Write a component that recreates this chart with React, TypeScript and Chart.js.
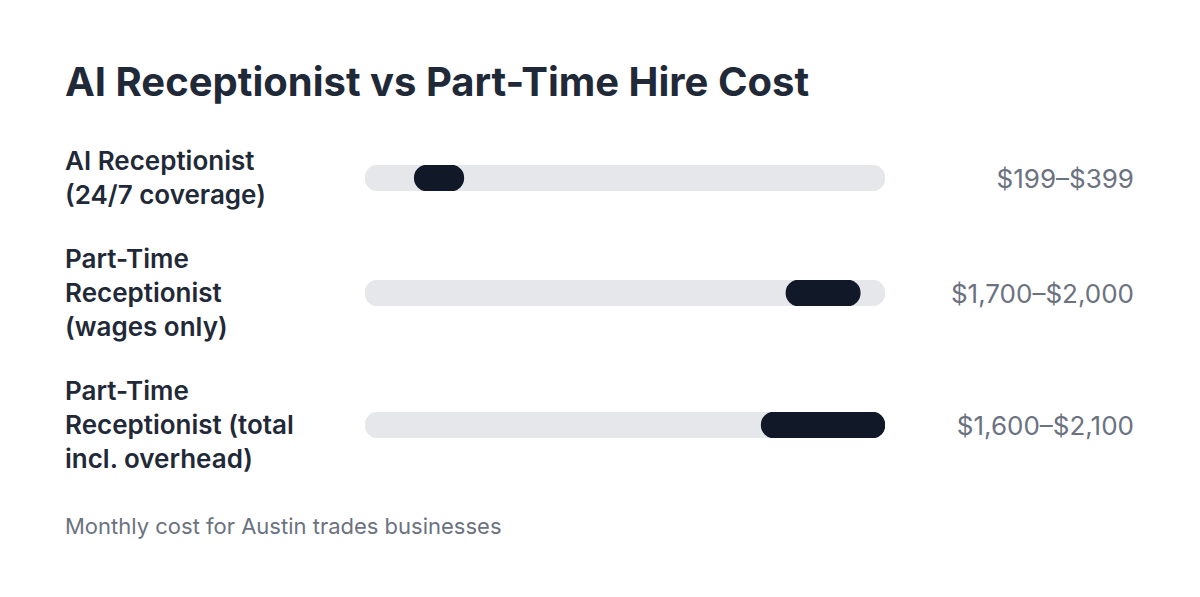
import React, { useEffect, useRef } from "react";
import { Chart, registerables } from "chart.js";

Chart.register(...registerables);

const title = "AI Receptionist vs Part-Time Hire Cost";
const categoryLines: string[][] = [
  ["AI Receptionist", "(24/7 coverage)"],
  ["Part-Time", "Receptionist", "(wages only)"],
  ["Part-Time", "Receptionist (total", "incl. overhead)"],
];
const lowValues = [199, 1700, 1600];
const highValues = [399, 2000, 2100];
const valueLabels = ["$199–$399", "$1,700–$2,000", "$1,600–$2,100"];
const scaleMax = 2100;
const footnote = "Monthly cost for Austin trades businesses";

const FONT = "Inter, 'Noto Sans', sans-serif";

function RangeBar({ low, high }: { low: number; high: number }) {
  const ref = useRef<HTMLCanvasElement | null>(null);
  useEffect(() => {
    if (!ref.current) return;
    const chart = new Chart(ref.current, {
      type: "bar",
      data: {
        labels: [""],
        datasets: [
          {
            data: [[low, high]] as any,
            backgroundColor: "#111827",
            borderRadius: 13,
            borderSkipped: false,
            barThickness: 26,
            order: 0,
          },
          {
            data: [[0, scaleMax]] as any,
            backgroundColor: "#e5e7eb",
            borderRadius: 13,
            borderSkipped: false,
            barThickness: 26,
            order: 1,
          },
        ],
      },
      options: {
        indexAxis: "y",
        animation: false,
        responsive: true,
        maintainAspectRatio: false,
        layout: { padding: 0 },
        plugins: { legend: { display: false }, tooltip: { enabled: false } },
        scales: {
          x: { display: false, min: 0, max: scaleMax },
          y: { display: false, stacked: false },
        },
        datasets: { bar: { grouped: false } } as any,
      },
    });
    return () => chart.destroy();
  }, [low, high]);
  return (
    <div style={{ position: "relative", width: 520, height: 26, flex: "none" }}>
      <canvas ref={ref} />
    </div>
  );
}

export default function App() {
  return (
    <div
      style={{
        width: 1184,
        height: 581,
        boxSizing: "border-box",
        padding: "50px 0 0 57px",
        fontFamily: FONT,
        background: "#ffffff",
      }}
    >
      <div
        style={{
          fontSize: 40,
          fontWeight: 700,
          color: "#1f2937",
          lineHeight: "48px",
        }}
      >
        {title}
      </div>
      <div style={{ marginTop: 38 }}>
        {categoryLines.map((lines, i) => (
          <div
            key={i}
            style={{
              display: "flex",
              alignItems: "center",
              marginTop: i === 0 ? 0 : 30,
            }}
          >
            <div
              style={{
                width: 300,
                flex: "none",
                fontSize: 26,
                fontWeight: 600,
                lineHeight: "34px",
                color: "#1f2937",
              }}
            >
              {lines.map((l, j) => (
                <div key={j}>{l}</div>
              ))}
            </div>
            <RangeBar low={lowValues[i]} high={highValues[i]} />
            <div
              style={{
                width: 249,
                flex: "none",
                textAlign: "right",
                fontSize: 26,
                color: "#6b7280",
              }}
            >
              {valueLabels[i]}
            </div>
          </div>
        ))}
      </div>
      <div style={{ marginTop: 38, fontSize: 22, color: "#6b7280", lineHeight: "24px" }}>
        {footnote}
      </div>
    </div>
  );
}
